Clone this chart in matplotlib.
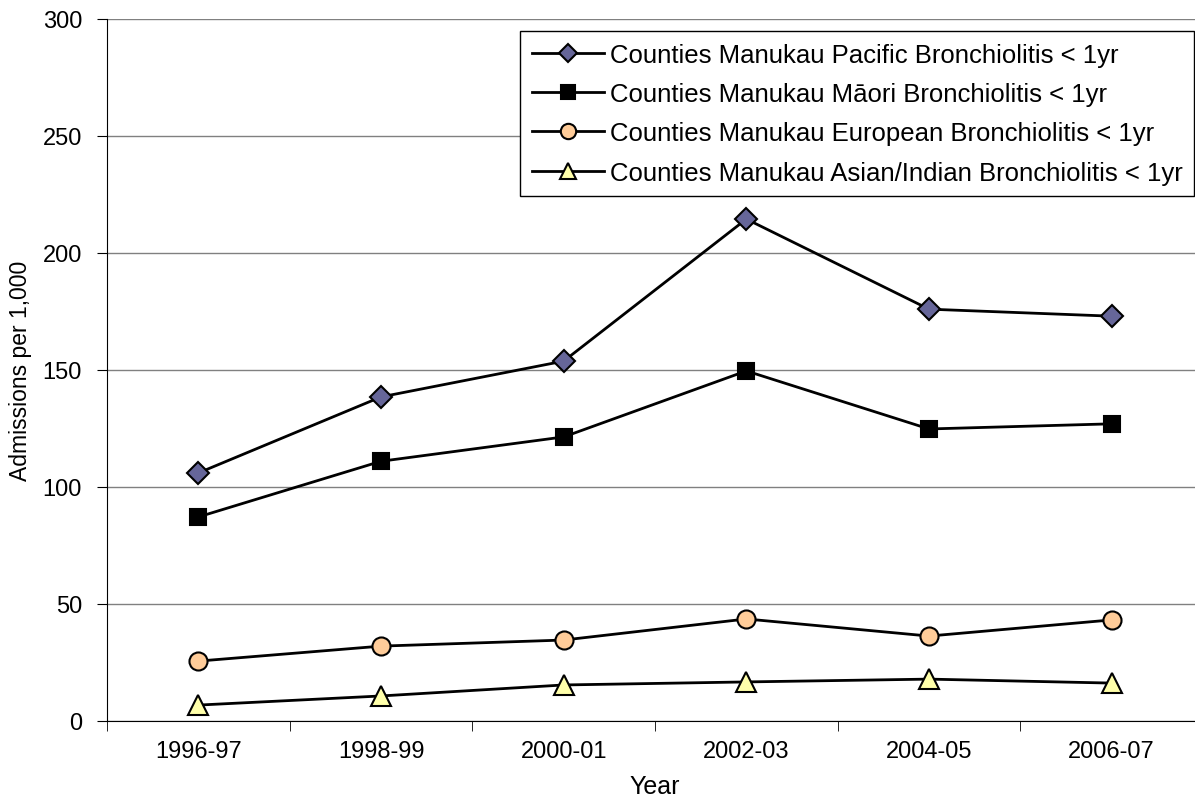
import matplotlib.pyplot as plt

plt.rcParams['font.family'] = ['Liberation Sans', 'DejaVu Sans']

# donnees
years = ["1996-97", "1998-99", "2000-01", "2002-03", "2004-05", "2006-07"]
pacific = [106, 138.5, 153.8, 214.5, 176, 173]
maori = [87.2, 111, 121.4, 149.6, 124.8, 127]
european = [25.6, 32, 34.6, 43.6, 36.3, 43.2]
asian = [6.8, 10.7, 15.4, 16.7, 17.9, 16.2]

labels = ["Counties Manukau Pacific Bronchiolitis < 1yr",
          "Counties Manukau Māori Bronchiolitis < 1yr",
          "Counties Manukau European Bronchiolitis < 1yr",
          "Counties Manukau Asian/Indian Bronchiolitis < 1yr"]

fig = plt.figure(figsize=(11.95, 8.03), dpi=100)
ax = fig.add_axes([107/1195, 81/803, 1096/1195, 702/803])

x = range(len(years))
ax.plot(x, pacific, color='black', lw=2, marker='D', ms=11, mfc='#666699', mec='black', mew=1.5, label=labels[0])
ax.plot(x, maori, color='black', lw=2, marker='s', ms=12, mfc='black', mec='black', mew=1.5, label=labels[1])
ax.plot(x, european, color='black', lw=2, marker='o', ms=13, mfc='#FFCC99', mec='black', mew=1.5, label=labels[2])
ax.plot(x, asian, color='black', lw=2, marker='^', ms=14, mfc='#FFFFAA', mec='black', mew=1.5, label=labels[3])

ax.set_xlim(-0.5, 5.5)
ax.set_ylim(0, 300)
ax.set_yticks(range(0, 301, 50))
ax.set_xticks(list(x))
ax.set_xticklabels(years)
ax.set_xticks([i + 0.5 for i in range(-1, 6)], minor=True)
ax.tick_params(axis='x', which='major', length=0, labelsize=17, pad=14)
ax.tick_params(axis='x', which='minor', length=7, direction='out', color='black')
ax.tick_params(axis='y', length=7, direction='out', labelsize=17, pad=11)

ax.grid(axis='y', color='#808080', lw=1)
ax.set_axisbelow(True)
for s in ['top', 'right']:
    ax.spines[s].set_visible(False)
ax.spines['left'].set_color('black')
ax.spines['bottom'].set_color('black')

ax.set_xlabel("Year", fontsize=18, labelpad=8)
ax.set_ylabel("Admissions per 1,000", fontsize=16.5, labelpad=8)

leg = ax.legend(loc='upper left', bbox_to_anchor=(413/1096, 1 - 12/702), fontsize=18.5,
                frameon=True, fancybox=False, edgecolor='black', framealpha=1,
                handlelength=2.8, handletextpad=0.25, labelspacing=0.6, borderpad=0.45,
                borderaxespad=0, markerscale=0.85)
leg.get_frame().set_linewidth(1)

plt.savefig("out.png", dpi=100)
